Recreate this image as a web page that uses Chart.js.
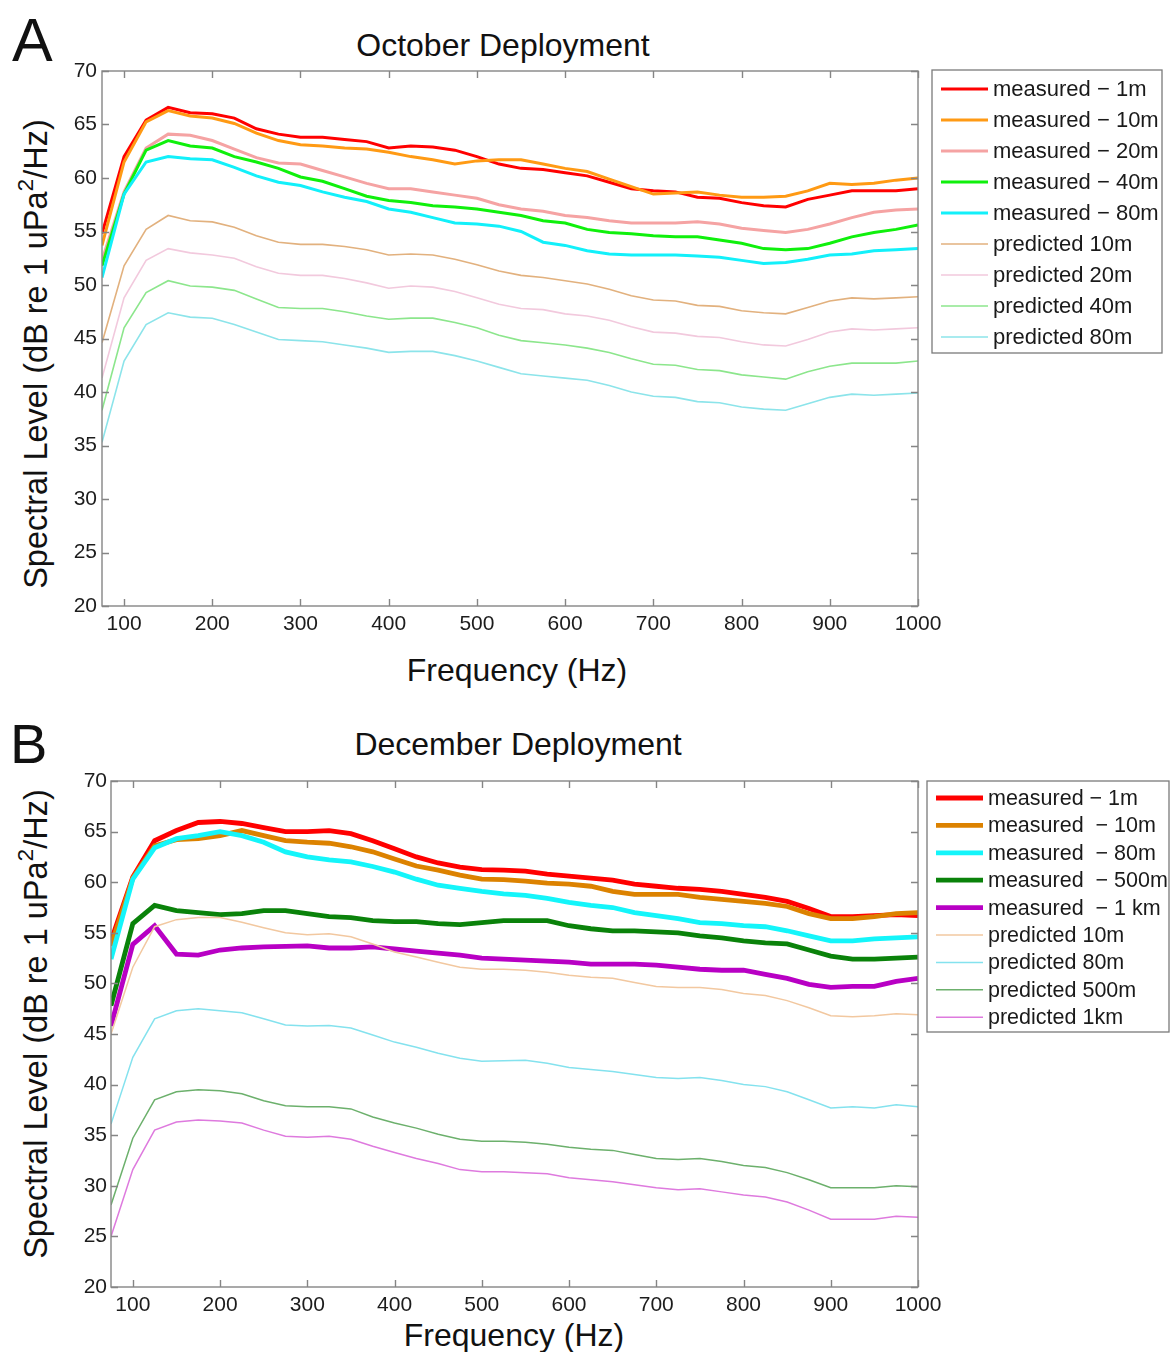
<!DOCTYPE html>
<html>
<head>
<meta charset="utf-8">
<script src="https://cdn.jsdelivr.net/npm/chart.js@4.4.1/dist/chart.umd.min.js"></script>
<style>
  html, body { margin: 0; padding: 0; background: #fff; }
  body { width: 1170px; height: 1352px; position: relative; overflow: hidden; font-family: "Liberation Sans", Arial, sans-serif; color: #111; }
  .abs { position: absolute; white-space: nowrap; line-height: 1; }
  .panel { position: absolute; left: 0; width: 1170px; }
  .ytitle { position: absolute; white-space: nowrap; line-height: 1; font-size: 32.5px; transform: translate(-50%, -50%) rotate(-90deg); }
  .sup { font-size: 0.7em; position: relative; top: -0.6em; }
</style>
</head>
<body>
<div class="abs" style="left:12px; top:10px; font-size:61px;">A</div>
<div class="abs" style="left:503px; top:29px; font-size:32px; transform:translateX(-50%);">October Deployment</div>
<div class="ytitle" style="left:36px; top:354px;">Spectral Level (dB re 1 uPa<span class="sup">2</span>/Hz)</div>
<div class="abs" style="left:517px; top:654px; font-size:32px; transform:translateX(-50%);">Frequency (Hz)</div>

<div class="abs" style="left:10px; top:716px; font-size:56px;">B</div>
<div class="abs" style="left:518px; top:728px; font-size:32px; transform:translateX(-50%);">December Deployment</div>
<div class="ytitle" style="left:36px; top:1024px;">Spectral Level (dB re 1 uPa<span class="sup">2</span>/Hz)</div>
<div class="abs" style="left:514px; top:1319px; font-size:32px; transform:translateX(-50%);">Frequency (Hz)</div>

<div class="panel" style="top:0; height:700px;"><canvas id="chartA"></canvas></div>
<div class="panel" style="top:700px; height:652px;"><canvas id="chartB"></canvas></div>

<script>
// ---------- shared axis data ----------
const frequencies = [75,100,125,150,175,200,225,250,275,300,325,350,375,400,425,450,475,500,525,550,575,600,625,650,675,700,725,750,775,800,825,850,875,900,925,950,975,1000];
const xTickValues = [100,200,300,400,500,600,700,800,900,1000];
const yTickValues = [20,25,30,35,40,45,50,55,60,65,70];

// ---------- Panel A: October Deployment ----------
const octLabels = ['measured \u2212 1m','measured \u2212 10m','measured \u2212 20m','measured \u2212 40m','measured \u2212 80m','predicted 10m','predicted 20m','predicted 40m','predicted 80m'];
const octMeasured1m  = [54.8,62.0,65.4,66.6,66.1,66.0,65.6,64.6,64.1,63.8,63.8,63.6,63.4,62.8,63.0,62.9,62.6,62.0,61.3,60.9,60.8,60.5,60.2,59.6,59.0,58.8,58.7,58.2,58.1,57.7,57.4,57.3,58.0,58.4,58.8,58.8,58.8,59.0];
const octMeasured10m = [53.7,61.5,65.25,66.3,65.8,65.6,65.1,64.2,63.5,63.1,63.0,62.8,62.7,62.4,62.0,61.7,61.3,61.6,61.7,61.7,61.3,60.9,60.6,59.9,59.2,58.5,58.6,58.7,58.4,58.2,58.2,58.3,58.8,59.5,59.4,59.5,59.8,60.0];
const octMeasured20m = [52.3,58.7,62.8,64.1,64.0,63.5,62.7,61.9,61.4,61.3,60.7,60.1,59.5,59.0,59.0,58.7,58.4,58.1,57.5,57.1,56.9,56.5,56.3,56.0,55.8,55.8,55.8,55.9,55.7,55.3,55.1,54.9,55.2,55.7,56.3,56.8,57.0,57.1];
const octMeasured40m = [51.8,58.5,62.6,63.5,63.0,62.8,62.0,61.5,60.9,60.1,59.7,59.0,58.3,57.9,57.7,57.4,57.3,57.1,56.8,56.5,56.0,55.8,55.2,54.9,54.8,54.6,54.5,54.5,54.2,53.9,53.4,53.3,53.4,53.9,54.5,54.9,55.2,55.6];
const octMeasured80m = [50.7,58.5,61.5,62.0,61.8,61.7,61.0,60.2,59.6,59.3,58.7,58.2,57.8,57.1,56.8,56.3,55.8,55.7,55.5,55.0,54.0,53.7,53.2,52.9,52.8,52.8,52.8,52.7,52.6,52.3,52.0,52.1,52.4,52.8,52.9,53.2,53.3,53.4];
const octPredicted10m = [44.6,51.8,55.2,56.5,56.0,55.9,55.4,54.6,54.0,53.8,53.8,53.6,53.3,52.8,52.9,52.8,52.4,51.9,51.3,50.9,50.7,50.4,50.1,49.6,49.0,48.6,48.5,48.1,48.0,47.6,47.4,47.3,47.9,48.5,48.8,48.7,48.8,48.9];
const octPredicted20m = [41.3,48.8,52.3,53.4,53.0,52.8,52.5,51.7,51.1,50.9,50.9,50.6,50.2,49.7,49.9,49.8,49.4,48.8,48.2,47.8,47.7,47.3,47.1,46.7,46.1,45.6,45.5,45.2,45.1,44.7,44.4,44.3,44.9,45.6,45.9,45.8,45.9,46.0];
const octPredicted40m = [38.3,46.0,49.3,50.4,49.9,49.8,49.5,48.7,47.9,47.8,47.8,47.5,47.1,46.8,46.9,46.9,46.5,46.0,45.3,44.8,44.6,44.4,44.1,43.7,43.1,42.6,42.5,42.1,42.0,41.6,41.4,41.2,41.9,42.4,42.7,42.7,42.7,42.9];
const octPredicted80m = [35.3,42.9,46.3,47.4,47.0,46.9,46.3,45.6,44.9,44.8,44.7,44.4,44.1,43.7,43.8,43.8,43.4,42.9,42.3,41.7,41.5,41.3,41.1,40.6,40.0,39.6,39.5,39.1,39.0,38.6,38.4,38.3,38.9,39.5,39.8,39.7,39.8,39.9];

// ---------- Panel B: December Deployment ----------
const decLabels = ['measured \u2212 1m','measured  \u2212 10m','measured  \u2212 80m','measured  \u2212 500m','measured  \u2212 1 km','predicted 10m','predicted 80m','predicted 500m','predicted 1km'];
const decMeasured1m   = [54.2,60.5,64.1,65.1,65.9,66.0,65.8,65.4,65.0,65.0,65.1,64.8,64.1,63.3,62.5,61.9,61.5,61.25,61.2,61.1,60.8,60.6,60.4,60.2,59.8,59.6,59.4,59.3,59.1,58.8,58.5,58.1,57.4,56.6,56.6,56.7,56.8,56.7];
const decMeasured10m  = [53.7,60.4,63.6,64.2,64.3,64.6,65.1,64.6,64.1,63.95,63.85,63.5,63.0,62.3,61.6,61.2,60.7,60.3,60.25,60.1,59.9,59.8,59.6,59.1,58.8,58.8,58.8,58.5,58.3,58.1,57.9,57.6,56.9,56.4,56.4,56.6,56.9,57.0];
const decMeasured80m  = [52.4,60.3,63.4,64.3,64.6,65.0,64.6,63.95,63.0,62.5,62.2,62.0,61.55,61.0,60.3,59.7,59.4,59.1,58.85,58.7,58.4,58.0,57.7,57.5,57.0,56.7,56.4,56.0,55.9,55.7,55.6,55.2,54.7,54.2,54.2,54.4,54.5,54.6];
const decMeasured500m = [47.8,55.9,57.7,57.2,57.0,56.8,56.9,57.2,57.2,56.9,56.6,56.5,56.2,56.1,56.1,55.9,55.8,56.0,56.2,56.2,56.2,55.7,55.4,55.2,55.2,55.1,55.0,54.7,54.5,54.2,54.0,53.9,53.3,52.7,52.4,52.4,52.5,52.6];
const decMeasured1km  = [45.8,53.85,55.7,52.9,52.8,53.3,53.5,53.6,53.65,53.7,53.5,53.5,53.6,53.4,53.2,53.0,52.8,52.5,52.4,52.3,52.2,52.1,51.9,51.9,51.9,51.8,51.6,51.4,51.3,51.3,50.9,50.5,49.9,49.6,49.7,49.7,50.2,50.5];
const decPredicted10m  = [45.0,51.6,55.6,56.3,56.5,56.5,56.05,55.5,55.0,54.8,54.9,54.6,53.9,53.1,52.6,52.1,51.6,51.4,51.4,51.3,51.1,50.8,50.6,50.5,50.1,49.7,49.6,49.6,49.4,49.0,48.8,48.3,47.6,46.8,46.7,46.8,47.0,46.9];
const decPredicted80m  = [36.1,42.7,46.5,47.3,47.5,47.3,47.1,46.5,45.9,45.8,45.85,45.6,44.9,44.2,43.7,43.1,42.6,42.3,42.35,42.4,42.1,41.7,41.5,41.3,41.0,40.7,40.6,40.7,40.4,40.0,39.8,39.3,38.5,37.7,37.8,37.7,38.0,37.8];
const decPredicted500m = [28.1,34.7,38.5,39.3,39.5,39.4,39.1,38.4,37.9,37.8,37.8,37.6,36.8,36.2,35.7,35.1,34.6,34.4,34.4,34.3,34.1,33.8,33.6,33.5,33.1,32.7,32.6,32.7,32.4,32.0,31.8,31.3,30.6,29.8,29.8,29.8,30.0,29.9];
const decPredicted1km  = [25.0,31.6,35.5,36.3,36.5,36.4,36.2,35.5,34.9,34.8,34.9,34.6,33.9,33.3,32.7,32.2,31.6,31.4,31.4,31.3,31.2,30.8,30.6,30.4,30.1,29.8,29.6,29.7,29.4,29.1,28.9,28.4,27.6,26.7,26.7,26.7,27.0,26.9];

// ---------- styles ----------
const octColors = ['#ff0000','#ff9a14','#f5a3a3','#0ff00c','#12f0fa','#e2b17e','#f2c9dd','#8ce68c','#8ce4ea'];
const octWidths = [3,3,3,3,3,1.6,1.6,1.6,1.6];
const decColors = ['#ff0000','#dc8200','#14f5fa','#0a820a','#b800c4','#f2c8a0','#84e2ee','#6cb06c','#de7ade'];
const decWidths = [4.8,4.8,4.8,4.8,4.8,1.5,1.5,1.5,1.5];

const FONT = '"Liberation Sans", Arial, sans-serif';

function makeDatasets(labels, series, colors, widths) {
  return series.map((vals, i) => ({
    label: labels[i],
    data: frequencies.map((f, k) => ({ x: f, y: vals[k] })),
    borderColor: colors[i],
    backgroundColor: colors[i],
    borderWidth: widths[i],
    pointRadius: 0,
    tension: 0,
    fill: false,
    order: -i
  }));
}

const framePlugin = {
  id: 'frame',
  afterDatasetsDraw(chart, args, o) {
    const { ctx, chartArea: a, scales: { x, y } } = chart;
    ctx.save();
    ctx.strokeStyle = o.color;
    ctx.lineWidth = o.width;
    ctx.beginPath();
    x.ticks.forEach(t => {
      const p = Math.round(x.getPixelForValue(t.value)) + 0.5;
      ctx.moveTo(p, a.bottom); ctx.lineTo(p, a.bottom - o.len);
      ctx.moveTo(p, a.top); ctx.lineTo(p, a.top + o.len);
    });
    y.ticks.forEach(t => {
      const p = Math.round(y.getPixelForValue(t.value)) + 0.5;
      ctx.moveTo(a.left, p); ctx.lineTo(a.left + o.len, p);
      ctx.moveTo(a.right, p); ctx.lineTo(a.right - o.len, p);
    });
    ctx.stroke();
    ctx.strokeRect(a.left, a.top, a.right - a.left, a.bottom - a.top);
    ctx.restore();
  }
};

const boxLegendPlugin = {
  id: 'boxLegend',
  afterDraw(chart, args, o) {
    const ctx = chart.ctx;
    ctx.save();
    ctx.fillStyle = '#ffffff';
    ctx.fillRect(o.x, o.y, o.w, o.h);
    ctx.strokeStyle = o.border;
    ctx.lineWidth = 1.3;
    ctx.strokeRect(o.x, o.y, o.w, o.h);
    ctx.font = o.font;
    ctx.textBaseline = 'middle';
    ctx.textAlign = 'left';
    chart.data.datasets.forEach((ds, i) => {
      const cy = o.y + o.first + i * o.gap;
      ctx.strokeStyle = ds.borderColor;
      ctx.lineWidth = ds.borderWidth;
      ctx.beginPath();
      ctx.moveTo(o.x + o.lineX0, cy);
      ctx.lineTo(o.x + o.lineX1, cy);
      ctx.stroke();
      ctx.fillStyle = o.textColor;
      ctx.fillText(ds.label, o.x + o.textX, cy + 1);
    });
    ctx.restore();
  }
};

function makeChart(id, datasets, g) {
  return new Chart(document.getElementById(id), {
    type: 'line',
    data: { datasets },
    plugins: [framePlugin, boxLegendPlugin],
    options: {
      responsive: true,
      maintainAspectRatio: false,
      animation: false,
      events: [],
      layout: { padding: { left: 0, right: g.padRight, top: g.padTop, bottom: 0 } },
      plugins: {
        legend: { display: false },
        title: { display: false },
        tooltip: { enabled: false },
        frame: { color: '#858585', width: 1.4, len: 7 },
        boxLegend: g.legend
      },
      scales: {
        x: {
          type: 'linear',
          min: 75, max: 1000,
          afterBuildTicks: s => { s.ticks = xTickValues.map(v => ({ value: v })); },
          afterFit: s => { s.height = g.xHeight; },
          grid: { display: false, drawTicks: false },
          border: { display: false },
          ticks: { padding: g.xPad, color: '#1c1c1c', font: { family: FONT, size: 21 }, maxRotation: 0, autoSkip: false,
                   callback: v => String(v) }
        },
        y: {
          type: 'linear',
          min: 20, max: 70,
          afterBuildTicks: s => { s.ticks = yTickValues.map(v => ({ value: v })); },
          afterFit: s => { s.width = g.yWidth; },
          grid: { display: false, drawTicks: false },
          border: { display: false },
          ticks: { padding: g.yPad, color: '#1c1c1c', font: { family: FONT, size: 21 }, callback: v => String(v) }
        }
      }
    }
  });
}

makeChart('chartA',
  makeDatasets(octLabels,
    [octMeasured1m, octMeasured10m, octMeasured20m, octMeasured40m, octMeasured80m,
     octPredicted10m, octPredicted20m, octPredicted40m, octPredicted80m],
    octColors, octWidths),
  { padRight: 252, padTop: 71, xHeight: 94, yWidth: 102, xPad: 6, yPad: 5,
    legend: { x: 932, y: 70, w: 230, h: 283, first: 19, gap: 31, lineX0: 9, lineX1: 56, textX: 61,
              font: '22px ' + FONT, border: '#7a7a7a', textColor: '#1a1a1a' } });

makeChart('chartB',
  makeDatasets(decLabels,
    [decMeasured1m, decMeasured10m, decMeasured80m, decMeasured500m, decMeasured1km,
     decPredicted10m, decPredicted80m, decPredicted500m, decPredicted1km],
    decColors, decWidths),
  { padRight: 252, padTop: 81, xHeight: 65, yWidth: 111, xPad: 6, yPad: 4,
    legend: { x: 927, y: 81, w: 242, h: 251, first: 17, gap: 27.4, lineX0: 9, lineX1: 56, textX: 61,
              font: '21.5px ' + FONT, border: '#7a7a7a', textColor: '#1a1a1a' } });
</script>
</body>
</html>
